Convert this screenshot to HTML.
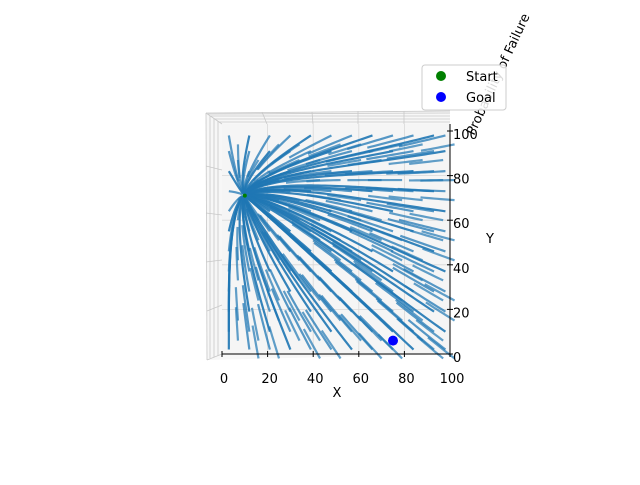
<!DOCTYPE html>
<html><head><meta charset="utf-8"><style>
body{margin:0;background:#fff;font-family:"Liberation Sans","DejaVu Sans",sans-serif;}
svg text{font-family:"DejaVu Sans","Liberation Sans",sans-serif;font-size:13px;fill:#000}
</style></head><body>
<svg id="chart" width="640" height="480" viewBox="0 0 640 480">
<g id="frame">
<polygon points="206,113 450,111 450,354 207,360" fill="#f7f7f7" stroke="none"/>
<rect x="222" y="124" width="228" height="230" fill="#f5f5f5"/>
<g stroke="#c8c8c8" stroke-width="0.8" fill="none">
<line x1="206" y1="113" x2="450" y2="111"/><line x1="206" y1="113" x2="207" y2="360"/>
<line x1="207" y1="360" x2="222" y2="354"/><line x1="206" y1="113" x2="222" y2="124"/>
<line x1="206" y1="166" x2="222" y2="170"/><line x1="206" y1="213" x2="222" y2="215"/><line x1="206" y1="262" x2="222" y2="260"/><line x1="207" y1="311" x2="222" y2="305"/>
<line x1="210" y1="116" x2="210" y2="358"/><line x1="214" y1="118" x2="214" y2="357"/><line x1="218" y1="121" x2="218" y2="356"/>
<line x1="208" y1="114" x2="450" y2="113"/><line x1="211" y1="116" x2="450" y2="116"/><line x1="215" y1="119" x2="450" y2="119"/><line x1="219" y1="122" x2="450" y2="122"/>
<line x1="262" y1="112" x2="267" y2="124"/><line x1="312" y1="112" x2="313" y2="124"/><line x1="358" y1="111" x2="358" y2="124"/><line x1="404" y1="111" x2="404" y2="124"/>
</g>
<g id="grid" stroke="#d8d8d8" stroke-width="0.8"></g>
</g>
<g id="lines"></g>
<g id="axes"></g>
<text transform="translate(474,136) rotate(-65)" x="0" y="0">Probability of Failure</text>
<g>
<rect x="422" y="65" width="84" height="45" rx="3" fill="#fff" fill-opacity="0.85" stroke="#ccc"/>
<circle cx="441" cy="76" r="5" fill="green"/><text x="466" y="81">Start</text>
<circle cx="441" cy="97" r="5" fill="blue"/><text x="466" y="102">Goal</text>
</g>
<text x="337" y="397" text-anchor="middle">X</text>
<text x="490" y="243" text-anchor="middle">Y</text>
</svg>
<script>
const startPt=[10,71];
const goalPt=[75,6];
const seedXs=[3,12,21,30,39,48,57,66,75,84,93,98];
const seedYs=[2,10,19,28,37,46,55,64,73,82,91,98];
const xTicks=[0,20,40,60,80,100];
const yTicks=[0,20,40,60,80,100];
const NS="http://www.w3.org/2000/svg";
const sx=v=>222+v*2.28, sy=v=>354-v*2.23;
const svg=document.getElementById('chart');
function mk(t,a,p){const e=document.createElementNS(NS,t);for(const k in a)e.setAttribute(k,a[k]);p.appendChild(e);return e;}
const grid=document.getElementById('grid'),axes=document.getElementById('axes'),lines=document.getElementById('lines');
xTicks.forEach(v=>{
 if(v>0&&v<100){const l=mk('line',{x1:sx(v),y1:124,x2:sx(v),y2:354},grid);}
 mk('line',{x1:sx(v),y1:351,x2:sx(v),y2:357,stroke:'#000'},axes);
 const tx=mk('text',{x:sx(v)+2,y:383,'text-anchor':'middle'},axes);tx.textContent=v;
 
});
yTicks.forEach(v=>{
 if(v>0&&v<100){const l=mk('line',{x1:222,y1:sy(v),x2:450,y2:sy(v)},grid);}
 mk('line',{x1:447,y1:sy(v),x2:453,y2:sy(v),stroke:'#000'},axes);
 const tx=mk('text',{x:453,y:sy(v)+8},axes);tx.textContent=v;
 
});
mk('line',{x1:222,y1:354,x2:450,y2:354,stroke:'#000'},axes);
mk('line',{x1:450,y1:124,x2:450,y2:354,stroke:'#000'},axes);
function trace(x,y,maxSteps){
 const pts=[[x,y]];
 for(let i=0;i<maxSteps;i++){
  let dx=startPt[0]-x,dy=startPt[1]-y,d=Math.hypot(dx,dy);
  if(d<1.5)break;
  let gx=x-goalPt[0],gy=y-goalPt[1],g=Math.hypot(gx,gy)+5;
  let vx=dx/d+0.25*gx/g*(1-Math.min(1,d/120)),vy=dy/d+0.25*gy/g*(1-Math.min(1,d/120));
  const n=Math.hypot(vx,vy);x+=vx/n*1.5;y+=vy/n*1.5;pts.push([x,y]);
 }
 return pts;
}
seedXs.forEach((xs,i)=>seedYs.forEach((ys,j)=>{
 const full=(i+j)%3===0;
 const pts=trace(xs,ys,full?200:14);
 const p=mk('polyline',{points:pts.map(q=>sx(q[0])+','+sy(q[1])).join(' '),fill:'none',stroke:'#1f77b4','stroke-width':2.2,'stroke-opacity':full?0.9:0.75},lines);
 
 
 if(!full){const p2=trace(xs+4,ys-4,10);const q=mk('polyline',{points:p2.map(q=>sx(q[0])+','+sy(q[1])).join(' '),fill:'none',stroke:'#1f77b4','stroke-width':2.2,'stroke-opacity':0.7},lines);
 
 }
}));
const s=mk('circle',{cx:sx(startPt[0]),cy:sy(startPt[1]),r:2,fill:'green'},svg);

const g=mk('circle',{cx:sx(goalPt[0]),cy:sy(goalPt[1]),r:5,fill:'blue'},svg);

</script>
</body></html>
